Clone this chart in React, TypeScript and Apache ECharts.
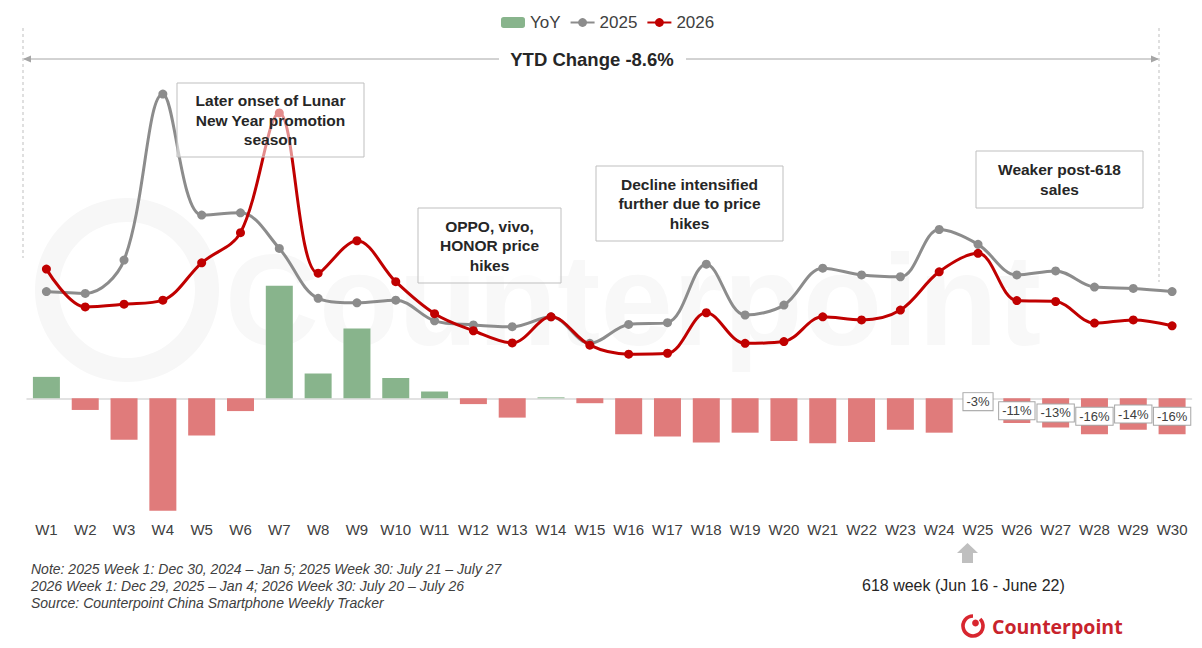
import React, { useEffect, useRef } from 'react';
import * as echarts from 'echarts';

const weeks = ['W1','W2','W3','W4','W5','W6','W7','W8','W9','W10','W11','W12','W13','W14','W15','W16','W17','W18','W19','W20','W21','W22','W23','W24','W25','W26','W27','W28','W29','W30'];
const yoy = [9.5, -5.2, -18.4, -50, -16.6, -5.7, 50, 11, 31, 9, 3, -2.6, -8.6, 0.4, -2.2, -16, -17, -19.7, -15.3, -19, -20, -19.4, -14, -15.3, -3, -11, -13, -16, -14, -16];
const s2025 = [49.2, 48.8, 56.2, 93.1, 66.2, 66.7, 58.8, 47.7, 46.7, 47.3, 42.7, 41.8, 41.4, 43.6, 37.7, 41.9, 42.3, 55.3, 44.0, 46.2, 54.4, 52.9, 52.5, 63.0, 59.7, 52.9, 53.8, 50.2, 49.9, 49.2];
const s2026 = [54.2, 45.8, 46.4, 47.3, 55.6, 62.3, 88.9, 53.3, 60.5, 51.4, 44.3, 40.5, 37.8, 43.6, 37.3, 35.3, 35.5, 44.5, 37.7, 38.1, 43.6, 42.9, 45.1, 53.6, 57.7, 47.2, 47.0, 42.2, 42.9, 41.6];
const labelledFrom = 24;

const FONT = '"Liberation Sans", Arial, sans-serif';
const GREEN = '#88b48c';
const RED_BAR = '#e07b7b';
const GRAY = '#8c8c8c';
const RED = '#c00000';

function box(x: number, y: number, w: number, h: number, text: string) {
  return [
    {
      type: 'rect',
      z: 20,
      shape: { x, y, width: w, height: h },
      style: { fill: 'rgba(255,255,255,0.55)', stroke: '#bfbfbf', lineWidth: 1 },
    },
    {
      type: 'text',
      z: 21,
      style: {
        text,
        x: x + w / 2,
        y: y + h / 2,
        align: 'center',
        verticalAlign: 'middle',
        fontSize: 15.5,
        fontWeight: 'bold',
        fontFamily: FONT,
        lineHeight: 19.5,
        fill: '#262626',
      },
    },
  ];
}

export default function App() {
  const ref = useRef<HTMLDivElement>(null);
  useEffect(() => {
    const chart = echarts.init(ref.current!, null, { renderer: 'svg' });
    const barData = yoy.map((v, i) => ({
      value: v,
      itemStyle: { color: v >= 0 ? GREEN : RED_BAR },
      label: i >= labelledFrom ? { show: true } : { show: false },
    }));
    const option: any = {
      animation: false,
      backgroundColor: '#ffffff',
      legend: {
        top: 9,
        left: 496,
        itemWidth: 24,
        itemHeight: 11,
        itemGap: 9,
        textStyle: { fontSize: 17, color: '#404040', fontFamily: FONT },
        data: ['YoY', '2025', '2026'],
      },
      grid: { left: 27, right: 10.5, top: 63, bottom: 135 },
      xAxis: {
        type: 'category',
        data: weeks,
        boundaryGap: true,
        axisLine: { lineStyle: { color: '#d9d9d9', width: 1.5 } },
        axisTick: { show: false },
        axisLabel: { interval: 0, fontSize: 15, color: '#404040', fontFamily: FONT, margin: 9 },
      },
      yAxis: [
        { type: 'value', min: -51, max: 149, show: false, splitLine: { show: false } },
        { type: 'value', min: 0, max: 100, show: false, splitLine: { show: false } },
      ],
      series: [
        {
          name: 'YoY',
          type: 'bar',
          yAxisIndex: 0,
          barWidth: 27,
          itemStyle: { color: GREEN },
          data: barData,
          z: 2,
          label: {
            position: 'inside',
            formatter: (p: any) => `${p.value}%`,
            fontSize: 13,
            color: '#404040',
            fontFamily: FONT,
            backgroundColor: '#ffffff',
            borderColor: '#a6a6a6',
            borderWidth: 1,
            padding: [2, 3, 2, 3],
          },
        },
        {
          name: '2025',
          type: 'line',
          yAxisIndex: 1,
          data: s2025,
          smooth: 0.35,
          symbol: 'circle',
          symbolSize: 9,
          lineStyle: { color: GRAY, width: 3 },
          itemStyle: { color: GRAY },
          z: 3,
        },
        {
          name: '2026',
          type: 'line',
          yAxisIndex: 1,
          data: s2026,
          smooth: 0.35,
          symbol: 'circle',
          symbolSize: 9,
          lineStyle: { color: RED, width: 3 },
          itemStyle: { color: RED },
          z: 4,
        },
      ],
      graphic: [
        // watermark
        {
          type: 'ring',
          z: -1,
          silent: true,
          shape: { cx: 127, cy: 290, r: 92, r0: 68 },
          style: { fill: '#f7f7f7' },
        },
        {
          type: 'text',
          z: -1,
          silent: true,
          style: {
            text: 'Counterpoint',
            x: 225,
            y: 300,
            verticalAlign: 'middle',
            fontSize: 130,
            fontWeight: 'bold',
            fontFamily: FONT,
            fill: '#f8f8f8',
          },
        },
        // dashed verticals
        {
          type: 'line',
          shape: { x1: 23, y1: 28, x2: 23, y2: 258 },
          style: { stroke: '#bfbfbf', lineWidth: 1, lineDash: [3, 3] },
        },
        {
          type: 'line',
          shape: { x1: 1159, y1: 28, x2: 1159, y2: 282 },
          style: { stroke: '#bfbfbf', lineWidth: 1, lineDash: [3, 3] },
        },
        // YTD arrow line
        {
          type: 'line',
          shape: { x1: 24, y1: 59, x2: 499, y2: 59 },
          style: { stroke: '#a6a6a6', lineWidth: 1 },
        },
        {
          type: 'line',
          shape: { x1: 686, y1: 59, x2: 1158, y2: 59 },
          style: { stroke: '#a6a6a6', lineWidth: 1 },
        },
        {
          type: 'polygon',
          shape: { points: [[23, 59], [31, 55.5], [31, 62.5]] },
          style: { fill: '#a6a6a6' },
        },
        {
          type: 'polygon',
          shape: { points: [[1159, 59], [1151, 55.5], [1151, 62.5]] },
          style: { fill: '#a6a6a6' },
        },
        {
          type: 'text',
          style: {
            text: 'YTD Change -8.6%',
            x: 592,
            y: 59,
            align: 'center',
            verticalAlign: 'middle',
            fontSize: 18.5,
            fontWeight: 'bold',
            fontFamily: FONT,
            fill: '#262626',
          },
        },
        ...box(177, 83, 187, 74, 'Later onset of Lunar\nNew Year promotion\nseason'),
        ...box(418, 208, 143, 75, 'OPPO, vivo,\nHONOR price\nhikes'),
        ...box(596, 166, 187, 75, 'Decline intensified\nfurther due to price\nhikes'),
        ...box(976, 151, 167, 57, 'Weaker post-618\nsales'),
        // notes
        {
          type: 'text',
          style: {
            text:
              'Note: 2025 Week 1: Dec 30, 2024 – Jan 5; 2025 Week 30: July 21 – July 27\n2026 Week 1: Dec 29, 2025 – Jan 4; 2026 Week 30: July 20 – July 26\nSource: Counterpoint China Smartphone Weekly Tracker',
            x: 31,
            y: 560.5,
            verticalAlign: 'top',
            fontSize: 14,
            fontStyle: 'italic',
            fontFamily: FONT,
            lineHeight: 17,
            fill: '#404040',
          },
        },
        // 618 arrow
        {
          type: 'polygon',
          shape: { points: [[967.5, 543], [957, 553], [978, 553]] },
          style: { fill: '#bfbfbf' },
        },
        {
          type: 'rect',
          shape: { x: 962, y: 552, width: 11, height: 11 },
          style: { fill: '#bfbfbf' },
        },
        {
          type: 'text',
          style: {
            text: '618 week (Jun 16 - June 22)',
            x: 862,
            y: 585,
            verticalAlign: 'middle',
            fontSize: 16,
            fontFamily: FONT,
            fill: '#262626',
          },
        },
        // logo
        {
          type: 'arc',
          shape: { cx: 973, cy: 626, r: 10, startAngle: -0.25 * Math.PI, endAngle: 1.5 * Math.PI, clockwise: true },
          style: { stroke: '#d8262f', lineWidth: 3.6, fill: 'none' },
        },
        {
          type: 'circle',
          shape: { cx: 975.5, cy: 623, r: 3.4 },
          style: { fill: '#d8262f' },
        },
        {
          type: 'text',
          style: {
            text: 'Counterpoint',
            x: 992,
            y: 626,
            verticalAlign: 'middle',
            fontSize: 19.5,
            fontWeight: 'bold',
            fontFamily: '"Open Sans", "Noto Sans", sans-serif',
            fill: '#c8232c',
          },
        },
      ],
    };
    chart.setOption(option);
    return () => chart.dispose();
  }, []);
  return (
    <div
      ref={ref}
      style={{ position: 'fixed', left: 0, top: 0, width: 1202, height: 648, background: '#fff' }}
    />
  );
}
